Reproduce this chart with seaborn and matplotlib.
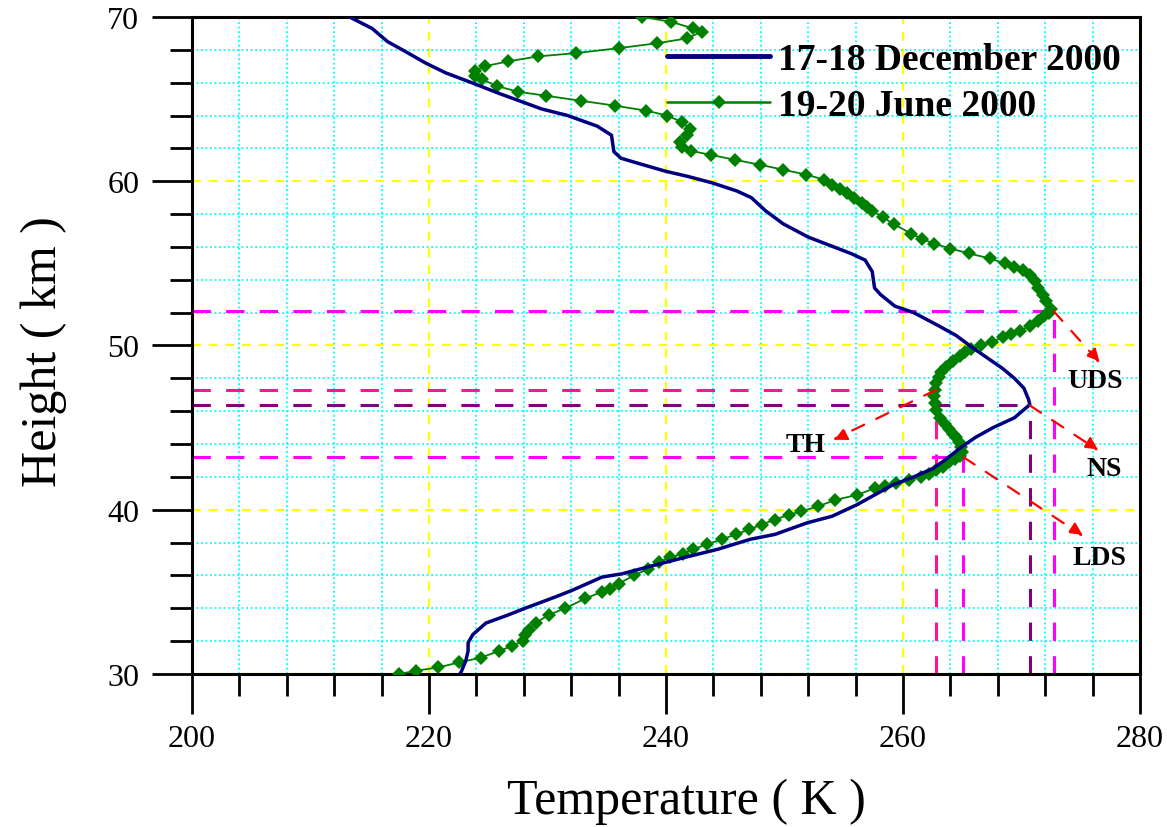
import numpy as np
import pandas as pd
import matplotlib
matplotlib.use("Agg")
import matplotlib.pyplot as plt
import seaborn as sns
from matplotlib.ticker import MultipleLocator

# Perfil de temperatura 17-18 dezembro 2000 (linha azul)
dec_temp = [213.3, 215.2, 216.5, 218.0, 219.7, 221.4, 223.6, 225.9, 229.5, 231.7,
            234.2, 235.4, 235.6, 236.2, 237.6, 240.0, 241.8, 243.9, 246.0, 247.2,
            248.4, 249.9, 252.0, 253.8, 255.6, 256.8, 257.4, 257.6, 258.1, 259.3,
            260.9, 263.0, 264.5, 265.8, 267.2, 268.4, 269.4, 270.2, 270.6, 270.7,
            269.4, 267.6, 266.1, 264.9, 264.2, 263.3, 262.5, 260.9, 259.1, 256.1,
            254.0, 251.9, 249.2, 247.1, 244.4, 241.6, 238.9, 236.3, 234.6, 232.1,
            230.7, 228.1, 226.7, 224.8, 223.7, 223.3, 223.3, 223.1, 222.7, 222.6]
dec_height = [70.0, 69.3, 68.5, 67.9, 67.2, 66.6, 66.0, 65.35, 64.4, 64.0,
              63.35, 62.8, 61.8, 61.4, 61.1, 60.6, 60.3, 59.9, 59.4, 59.0,
              58.2, 57.4, 56.6, 56.1, 55.6, 55.2, 54.5, 53.5, 53.1, 52.4,
              52.0, 51.2, 50.6, 49.9, 49.2, 48.6, 48.0, 47.4, 46.7, 46.4,
              45.6, 45.0, 44.4, 43.8, 43.4, 42.9, 42.5, 42.0, 41.5, 40.3,
              39.6, 39.2, 38.5, 38.2, 37.6, 37.1, 36.6, 36.1, 35.9, 35.1,
              34.7, 34.0, 33.6, 33.1, 32.4, 31.9, 31.4, 30.8, 30.1, 30.0]

# Perfil de temperatura 19-20 junho 2000 (linha verde com losangos)
jun_temp = [238.0, 240.45, 242.3, 243.0, 241.8, 239.25, 236.0, 232.4, 229.2, 226.7,
            224.7, 223.9, 223.9, 224.5, 225.7, 227.5, 229.9, 232.8, 235.7, 238.3,
            240.1, 241.35, 242.0, 241.8, 241.2, 241.35, 242.1, 243.8, 245.85, 247.95,
            249.9, 251.85, 253.3, 254.0, 254.7, 255.3, 255.9, 256.5, 257.0, 257.4,
            258.3, 259.2, 260.7, 261.6, 262.6, 264.0, 265.6, 267.3, 268.6, 269.4,
            270.1, 270.7, 271.1, 271.4, 271.8, 272.1, 272.5, 272.3, 271.9, 271.4,
            270.7, 269.9, 269.1, 268.4, 267.5, 266.6, 265.7, 265.2, 264.8, 264.2,
            263.6, 263.2, 263.0, 262.8, 262.7, 262.65, 262.7, 262.8, 263.1, 263.5,
            263.9, 264.2, 264.5, 264.7, 264.9, 265.0, 264.8, 264.4, 263.9, 263.4,
            262.8, 262.2, 261.5, 260.5, 259.4, 258.5, 257.6, 256.1, 254.3, 252.8,
            251.4, 250.4, 249.2, 248.1, 247.0, 245.9, 244.7, 243.5, 242.3, 241.4,
            240.3, 239.4, 238.5, 237.3, 236.0, 235.3, 234.6, 233.2, 231.5, 230.1,
            229.0, 228.4, 228.1, 227.9, 227.0, 225.9, 224.4, 222.5, 220.8, 218.9,
            217.5]
jun_height = [70.0, 69.7, 69.3, 69.1, 68.7, 68.4, 68.1, 67.8, 67.6, 67.3,
              67.0, 66.7, 66.4, 66.2, 65.8, 65.45, 65.2, 64.9, 64.6, 64.3,
              64.0, 63.6, 63.2, 62.8, 62.4, 62.1, 61.85, 61.6, 61.3, 61.0,
              60.7, 60.4, 60.1, 59.8, 59.5, 59.3, 59.0, 58.7, 58.45, 58.2,
              57.8, 57.4, 56.8, 56.5, 56.2, 55.9, 55.6, 55.3, 55.0, 54.8,
              54.6, 54.3, 53.9, 53.5, 53.1, 52.7, 52.2, 52.0, 51.8, 51.5,
              51.2, 50.9, 50.7, 50.5, 50.2, 50.0, 49.8, 49.6, 49.35, 49.05,
              48.7, 48.4, 48.1, 47.7, 47.3, 46.9, 46.5, 46.1, 45.6, 45.2,
              44.9, 44.6, 44.4, 44.1, 43.8, 43.5, 43.3, 43.1, 42.9, 42.6,
              42.4, 42.2, 42.0, 41.8, 41.6, 41.45, 41.3, 40.9, 40.6, 40.2,
              39.9, 39.7, 39.4, 39.1, 38.8, 38.5, 38.2, 37.9, 37.6, 37.3,
              37.1, 36.8, 36.4, 36.0, 35.5, 35.2, 35.0, 34.6, 34.0, 33.6,
              33.1, 32.7, 32.4, 32.0, 31.7, 31.4, 31.0, 30.7, 30.4, 30.2,
              30.0]

# Camadas marcadas (nome, temperatura, altura)
layer_names = ["UDS", "TH", "NS", "LDS"]
layer_temp = [272.7, 262.8, 270.7, 265.1]
layer_height = [52.1, 47.3, 46.35, 43.2]

dec = pd.DataFrame({"temp": dec_temp, "height": dec_height})
jun = pd.DataFrame({"temp": jun_temp, "height": jun_height})

sns.set_theme(style="white")
plt.rcParams["font.family"] = ["Liberation Serif", "DejaVu Serif"]
plt.rcParams["text.color"] = "black"
plt.rcParams["axes.labelcolor"] = "black"
plt.rcParams["xtick.color"] = "black"
plt.rcParams["ytick.color"] = "black"

fig = plt.figure(figsize=(11.67, 8.28), dpi=100)
ax = fig.add_axes([0.1645, 0.1848, 0.8124, 0.7935])

# grade: menor ciano pontilhada, maior amarela tracejada
ax.set_xlim(200, 280)
ax.set_ylim(30, 70)
ax.xaxis.set_major_locator(MultipleLocator(20))
ax.xaxis.set_minor_locator(MultipleLocator(4))
ax.yaxis.set_major_locator(MultipleLocator(10))
ax.yaxis.set_minor_locator(MultipleLocator(2))
ax.grid(which="minor", color="#00FFFF", linestyle=(0, (1, 1.5)), lw=1.3)
ax.grid(which="major", color="#FFFF00", linestyle=(0, (4, 3.5)), lw=1.6)
ax.set_axisbelow(True)

# linhas de referencia das camadas
cores = {"UDS": "#FF00FF", "TH": "#FF1493", "NS": "#800080", "LDS": "#FF00FF"}
for nome, t, h in zip(layer_names, layer_temp, layer_height):
    ax.hlines(h, 200, t, colors=cores[nome], linestyles=(0, (6, 5)), lw=2.2, zorder=2)
    ax.vlines(t, 30, h, colors=cores[nome], linestyles=(0, (6, 5)), lw=2.2, zorder=2)

# curvas
sns.lineplot(data=dec, x="temp", y="height", sort=False, estimator=None,
             color="#000080", lw=2.5, ax=ax, label="17-18 December 2000", zorder=4)
sns.lineplot(data=jun, x="temp", y="height", sort=False, estimator=None,
             color="#008000", lw=1.3, marker="D", markersize=7, markeredgewidth=0,
             ax=ax, label="19-20 June 2000", zorder=3)

# setas vermelhas tracejadas e rotulos
setas = {"UDS": ((276.6, 48.95), (276.2, 47.85)),
         "NS": ((276.5, 43.6), (277.0, 42.5)),
         "LDS": ((275.2, 38.4), (276.6, 37.1)),
         "TH": ((254.1, 44.26), (251.8, 44.0))}
for nome, t, h in zip(layer_names, layer_temp, layer_height):
    fim, pos_txt = setas[nome]
    ax.annotate("", xy=fim, xytext=(t, h),
                arrowprops=dict(arrowstyle="-|>", color="red", lw=1.6,
                                linestyle=(0, (6, 6)), mutation_scale=20,
                                shrinkA=0, shrinkB=0), zorder=5)
    ax.text(pos_txt[0], pos_txt[1], nome, ha="center", va="center",
            fontsize=20, fontweight="bold", color="black", zorder=6)

# eixos
for s in ax.spines.values():
    s.set_linewidth(2.2)
    s.set_color("black")
ax.tick_params(which="major", direction="out", length=29, width=2, pad=7,
               labelsize=23, colors="black", bottom=True, left=True)
ax.tick_params(which="minor", direction="out", length=16, width=2,
               bottom=True, left=True)
ax.tick_params(axis="y", which="major", pad=9)

ax.set_xlabel("Temperature ( K )", fontsize=36, color="black")
ax.set_ylabel("Height ( km )", fontsize=36, color="black")
ax.xaxis.set_label_coords(0.522, -0.158)
ax.yaxis.set_label_coords(-0.132, 0.492)

leg = ax.legend(loc="upper left", bbox_to_anchor=(0.501, 0.962), frameon=False,
                borderpad=0, borderaxespad=0, handlelength=2.75, handletextpad=0.22,
                labelspacing=0.3, labelcolor="black",
                prop={"family": "Liberation Serif", "weight": "bold", "size": 27})
for line in leg.get_lines():
    line.set_linewidth(line.get_linewidth() * 1.4)

fig.savefig("out.png", dpi=100)
